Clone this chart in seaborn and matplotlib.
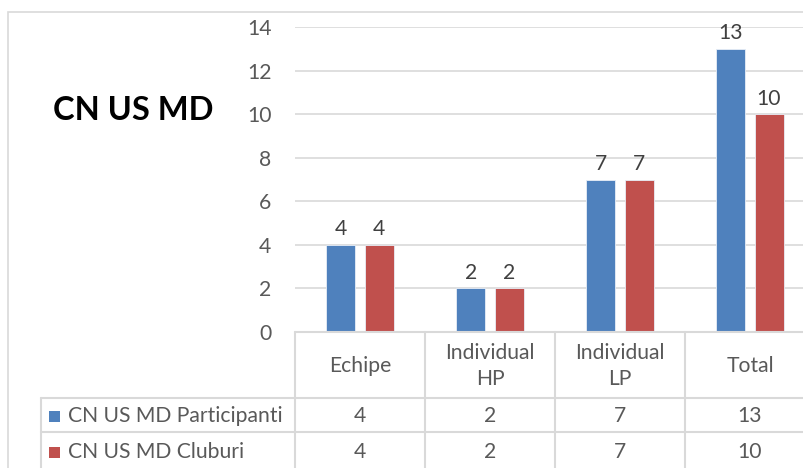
import pandas as pd
import numpy as np

import matplotlib
matplotlib.use("Agg")
import matplotlib.pyplot as plt
import matplotlib.transforms as mtransforms
from matplotlib.lines import Line2D
from matplotlib.patches import Rectangle
import seaborn as sns

# chart data
categories = ["Echipe", "Individual\nHP", "Individual\nLP", "Total"]
series_names = ["CN US MD Participanti", "CN US MD Cluburi"]
participanti = [4, 2, 7, 13]
cluburi = [4, 2, 7, 10]
colors = ["#4F81BD", "#C0504D"]
title = "CN US MD"

W, H = 804, 468
GRID = "#D9D9D9"
TXT = "#595959"
FS = 15.2

sns.set_theme(style="white")
plt.rcParams["font.family"] = ["Lato", "DejaVu Sans"]

df = pd.DataFrame({
    "category": categories * 2,
    "series": [series_names[0]] * 4 + [series_names[1]] * 4,
    "value": participanti + cluburi,
})

fig = plt.figure(figsize=(W / 100, H / 100), dpi=100)
fig.patch.set_facecolor("white")


def fx(px):
    return px / W


def fy(py):
    return 1 - py / H


# plot area in pixel coords: x 295..804, y 27..332
ax = fig.add_axes([fx(295), fy(332), fx(509), 305 / H])
sns.barplot(data=df, x="category", y="value", hue="series", palette=colors,
            width=0.585, gap=0.237, legend=False, ax=ax,
            edgecolor="#E8EEF7", linewidth=0.6, saturation=1)
ax.set_xlim(-0.5, -0.5 + 509 / 130)
ax.set_ylim(0, 14)
ax.set_yticks(range(0, 15, 2))
ax.yaxis.grid(True, color=GRID, linewidth=1.2)
ax.set_axisbelow(True)
for s in ax.spines.values():
    s.set_visible(False)
ax.set_xlabel("")
ax.set_ylabel("")
ax.set_xticks([])
ax.tick_params(axis="y", length=0, pad=17, labelsize=FS, labelcolor=TXT)
for c in ax.containers:
    ax.bar_label(c, padding=4, fontsize=FS, color="#404040")

# title on the left
fig.text(fx(133), fy(110), title, ha="center", va="center",
         fontsize=23.5, fontweight="bold", color="black")

# outer chart border
fig.patches.append(Rectangle((fx(8), fy(500)), fx(900), (500 - 12) / H,
                             transform=fig.transFigure, fill=False,
                             edgecolor=GRID, linewidth=1.2))

# data table below the plot
trans = mtransforms.blended_transform_factory(ax.transData, fig.transFigure)
y_top, y_r1, y_r2, y_bot = fy(332), fy(398), fy(432), fy(520)
lw = 1.5
# horizontal lines
fig.lines.append(Line2D([-0.5, 5], [y_top, y_top], transform=trans, color=GRID, lw=lw))
for yy in (y_r1, y_r2):
    fig.lines.append(Line2D([fx(41), 1.2], [yy, yy], transform=fig.transFigure, color=GRID, lw=lw))
# vertical lines
for i in range(len(categories) + 1):
    fig.lines.append(Line2D([i - 0.5, i - 0.5], [y_top, y_bot], transform=trans, color=GRID, lw=lw))
fig.lines.append(Line2D([fx(41), fx(41)], [y_r1, y_bot], transform=fig.transFigure, color=GRID, lw=lw))

for i, cat in enumerate(categories):
    fig.text(i, fy(366), cat, transform=trans, ha="center", va="center",
             fontsize=FS, color=TXT, linespacing=1.35)
    fig.text(i, fy(416), str(participanti[i]), transform=trans, ha="center",
             va="center", fontsize=FS, color=TXT)
    fig.text(i, fy(452), str(cluburi[i]), transform=trans, ha="center",
             va="center", fontsize=FS, color=TXT)

for name, col, yc in zip(series_names, colors, (fy(416), fy(452))):
    fig.patches.append(Rectangle((fx(49), yc - 5.5 / H), fx(11), 11 / H,
                                 transform=fig.transFigure, facecolor=col,
                                 edgecolor="none"))
    fig.text(fx(68), yc, name, ha="left", va="center", fontsize=FS, color=TXT)

fig.savefig("out.png", dpi=100)
